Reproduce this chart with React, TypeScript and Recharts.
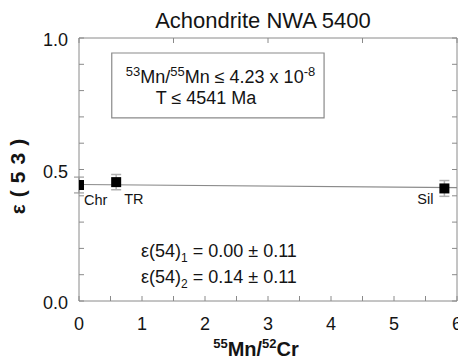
import {
  ComposedChart,
  Scatter,
  ErrorBar,
  XAxis,
  YAxis,
  ReferenceLine,
  ReferenceArea,
  LabelList,
} from 'recharts';

// measured phases
const phases = ['Chr', 'TR', 'Sil'];
const mnCr = [0.0, 0.59, 5.8];
const eps53 = [0.441, 0.452, 0.428];
const eps53Err = [0.03, 0.029, 0.03];

// isochron fit line (x, y) at the two ends
const fitX = [0, 6];
const fitY = [0.443, 0.431];

const xTicks = [0, 0.5, 1, 1.5, 2, 2.5, 3, 3.5, 4, 4.5, 5, 5.5, 6];
const yTicks = [0, 0.1, 0.2, 0.3, 0.4, 0.5, 0.6, 0.7, 0.8, 0.9, 1.0];

const GRAY = '#8a8a8a';
const INK = '#141414';
const FONT = '"Liberation Sans", Arial, sans-serif';

// label placement next to each point
const labelOffset: Record<string, { dx: number; dy: number; anchor: string }> = {
  Chr: { dx: 5, dy: 20, anchor: 'start' },
  TR: { dx: 8, dy: 22, anchor: 'start' },
  Sil: { dx: -11, dy: 16, anchor: 'end' },
};

const data = phases.map((name, i) => ({
  name,
  x: mnCr[i],
  y: eps53[i],
  err: eps53Err[i],
}));

const isInt = (v: number) => Math.abs(v - Math.round(v)) < 1e-6;
const isHalf = (v: number) => Math.abs(v * 2 - Math.round(v * 2)) < 1e-6;

const BottomTick = (props: any) => {
  const { x, y, payload } = props;
  const v = payload.value;
  return (
    <g>
      <line x1={x} x2={x} y1={y} y2={y - 5} stroke={GRAY} />
      {isInt(v) && (
        <text x={x} y={y + 29} textAnchor="middle" fontSize={18} fill={INK} fontFamily={FONT}>
          {v}
        </text>
      )}
    </g>
  );
};

const TopTick = (props: any) => {
  const { x, y } = props;
  return <line x1={x} x2={x} y1={y} y2={y + 5} stroke={GRAY} />;
};

const LeftTick = (props: any) => {
  const { x, y, payload } = props;
  const v = payload.value;
  return (
    <g>
      <line x1={x} x2={x + 5} y1={y} y2={y} stroke={GRAY} />
      {isHalf(v) && (
        <text x={x - 11} y={y + 8} textAnchor="end" fontSize={18} fill={INK} fontFamily={FONT}>
          {v.toFixed(1)}
        </text>
      )}
    </g>
  );
};

const RightTick = (props: any) => {
  const { x, y } = props;
  return <line x1={x} x2={x - 5} y1={y} y2={y} stroke={GRAY} />;
};

const SquareDot = (props: any) => {
  const { cx, cy } = props;
  return <rect x={cx - 5} y={cy - 5} width={10} height={10} fill="#000" />;
};

const PointLabel = (props: any) => {
  const { x, y, width, height, value } = props;
  const o = labelOffset[value];
  const cx = x + (width || 0) / 2;
  const cy = y + (height || 0) / 2;
  return (
    <text x={cx + o.dx} y={cy + o.dy} textAnchor={o.anchor} fontSize={14.5} fill={INK} fontFamily={FONT}>
      {value}
    </text>
  );
};

const BoxText = (props: any) => {
  const { x, y } = props.viewBox;
  return (
    <text fontSize={18} fill={INK} fontFamily={FONT}>
      <tspan x={x + 14} y={y + 30} fontSize={13} dy={-7}>53</tspan>
      <tspan dy={7}>Mn/</tspan>
      <tspan fontSize={13} dy={-7}>55</tspan>
      <tspan dy={7}>Mn ≤ 4.23 x 10</tspan>
      <tspan fontSize={13} dy={-7}>-8</tspan>
      <tspan x={x + 44} y={y + 51}>T ≤ 4541 Ma</tspan>
    </text>
  );
};

const EpsText = (props: any) => {
  const { x, y } = props.viewBox;
  return (
    <text fontSize={18} fill={INK} fontFamily={FONT}>
      <tspan x={x - 1} y={y + 16.5}>ε(54)</tspan>
      <tspan fontSize={12} dy={5}>1</tspan>
      <tspan dy={-5}> = 0.00 ± 0.11</tspan>
      <tspan x={x - 1} y={y + 42.5}>ε(54)</tspan>
      <tspan fontSize={12} dy={5}>2</tspan>
      <tspan dy={-5}> = 0.14 ± 0.11</tspan>
    </text>
  );
};

export default function App() {
  return (
    <div style={{ position: 'absolute', left: 0, top: 0, width: 458, height: 360, background: '#fff' }}>
      <ComposedChart
        width={458}
        height={360}
        data={data}
        margin={{ top: 37, right: 0, bottom: 58, left: 0 }}
      >
        <XAxis
          xAxisId="b"
          type="number"
          dataKey="x"
          domain={[0, 6]}
          ticks={xTicks}
          allowDataOverflow
          height={1}
          tickSize={0}
          tickMargin={0}
          tickLine={false}
          interval={0}
          axisLine={{ stroke: GRAY }}
          tick={<BottomTick />}
        />
        <XAxis
          xAxisId="t"
          orientation="top"
          type="number"
          domain={[0, 6]}
          ticks={xTicks}
          allowDataOverflow
          height={1}
          tickSize={0}
          tickMargin={0}
          tickLine={false}
          interval={0}
          axisLine={{ stroke: GRAY }}
          tick={<TopTick />}
        />
        <YAxis
          yAxisId="l"
          type="number"
          dataKey="y"
          domain={[0, 1]}
          ticks={yTicks}
          allowDataOverflow
          width={79}
          tickSize={0}
          tickMargin={0}
          tickLine={false}
          interval={0}
          axisLine={{ stroke: GRAY }}
          tick={<LeftTick />}
        />
        <YAxis
          yAxisId="r"
          orientation="right"
          type="number"
          domain={[0, 1]}
          ticks={yTicks}
          allowDataOverflow
          width={1}
          tickSize={0}
          tickMargin={0}
          tickLine={false}
          interval={0}
          axisLine={{ stroke: GRAY }}
          tick={<RightTick />}
        />
        <ReferenceArea
          xAxisId="b"
          yAxisId="l"
          x1={0.52}
          x2={3.89}
          y1={0.696}
          y2={0.943}
          fill="#fff"
          fillOpacity={1}
          stroke={GRAY}
          strokeWidth={1.2}
          label={<BoxText />}
        />
        <ReferenceArea
          xAxisId="b"
          yAxisId="l"
          x1={1}
          x2={3.6}
          y1={0.08}
          y2={0.23}
          fill="none"
          stroke="none"
          label={<EpsText />}
        />
        <ReferenceLine
          xAxisId="b"
          yAxisId="l"
          segment={[
            { x: fitX[0], y: fitY[0] },
            { x: fitX[1], y: fitY[1] },
          ]}
          stroke={GRAY}
          strokeWidth={1.2}
        />
        <Scatter
          xAxisId="b"
          yAxisId="l"
          data={data}
          dataKey="y"
          shape={<SquareDot />}
          isAnimationActive={false}
        >
          <ErrorBar dataKey="err" direction="y" width={5} stroke="#b0b0b0" strokeWidth={1.5} />
          <LabelList dataKey="name" content={<PointLabel />} />
        </Scatter>
      </ComposedChart>
      <svg
        width={458}
        height={360}
        style={{ position: 'absolute', left: 0, top: 0, pointerEvents: 'none' }}
        fontFamily={FONT}
      >
        <text x={263} y={28} textAnchor="middle" fontSize={22} fill={INK}>
          Achondrite NWA 5400
        </text>
        <text
          transform="translate(25,173) rotate(-90)"
          textAnchor="middle"
          fontSize={21}
          fontWeight="bold"
          letterSpacing={7}
          fill={INK}
        >
          ε(53)
        </text>
        <text x={256} y={356} textAnchor="middle" fontSize={20} fontWeight="bold" fill={INK}>
          <tspan fontSize={13} dy={-8}>55</tspan>
          <tspan dy={8}>Mn/</tspan>
          <tspan fontSize={13} dy={-8}>52</tspan>
          <tspan dy={8}>Cr</tspan>
        </text>
      </svg>
    </div>
  );
}
